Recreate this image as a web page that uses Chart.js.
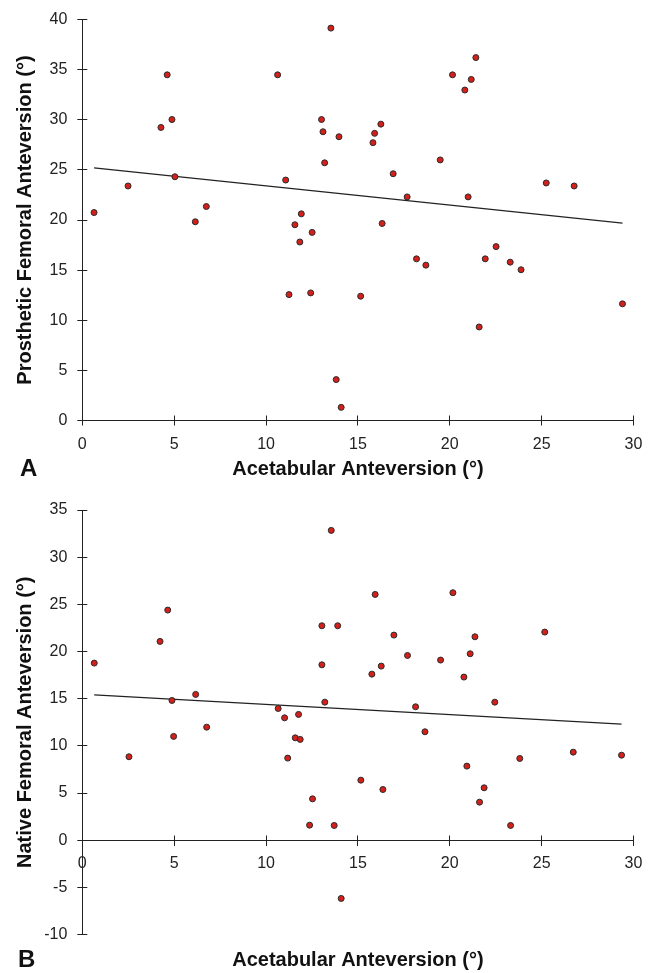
<!DOCTYPE html>
<html>
<head>
<meta charset="utf-8">
<script src="https://cdn.jsdelivr.net/npm/chart.js@4.4.1/dist/chart.umd.min.js"></script>
<style>
  body { margin: 0; background: #fff; }
  #wrap { position: relative; width: 654px; height: 973px; }
  canvas { position: absolute; left: 0; }
  .panel { position: absolute; font: bold 24px "Liberation Sans", Arial, sans-serif; color: #111; line-height: 24px; }
</style>
</head>
<body>
<div id="wrap">
  <canvas id="graficaA" width="654" height="490" style="top:0"></canvas>
  <canvas id="graficaB" width="654" height="483" style="top:490px"></canvas>
  <div class="panel" style="left:20px;top:456px">A</div>
  <div class="panel" style="left:18px;top:947px">B</div>
</div>
<script>
// datos (panel A)
var acetabularA = [0.64, 2.49, 4.28, 4.62, 4.88, 5.04, 6.15, 6.75, 10.63, 11.07, 11.25, 11.57, 11.84, 11.92, 12.43, 12.51,
  13.02, 13.10, 13.19, 13.53, 13.82, 13.97, 14.09, 15.15, 15.82, 15.91, 16.25, 16.32, 16.92, 17.68, 18.19, 18.70,
  19.48, 20.15, 20.82, 21.0, 21.17, 21.42, 21.60, 21.93, 22.52, 23.29, 23.88, 25.25, 26.77, 29.40];
var protesisA = [20.75, 23.4, 29.24, 34.49, 30.03, 24.32, 19.83, 21.35, 34.49, 23.99, 12.56, 19.53, 17.81, 20.62, 12.73, 18.77,
  30.03, 28.81, 25.71, 39.15, 4.08, 28.31, 1.31, 12.40, 27.72, 28.65, 29.57, 19.66, 24.62, 22.31, 16.13, 15.50,
  26.0, 34.49, 32.97, 22.31, 34.03, 36.21, 9.33, 16.13, 17.35, 15.80, 15.04, 23.7, 23.4, 11.64];
var tendenciaAx = [0.64, 29.4];
var tendenciaAy = [25.2, 19.7];

// datos (panel B)
var acetabularB = [0.65, 2.54, 4.23, 4.65, 4.88, 4.97, 6.17, 6.77, 10.66, 11.01, 11.18, 11.59, 11.77, 11.86, 12.37, 12.53,
  13.04, 13.04, 13.2, 13.55, 13.71, 13.9, 14.09, 15.16, 15.76, 15.94, 16.27, 16.36, 16.96, 17.7, 18.14, 18.65,
  19.5, 20.17, 20.77, 20.93, 21.11, 21.37, 21.62, 21.87, 22.45, 23.31, 23.81, 25.17, 26.72, 29.35];
var nativaB = [18.77, 8.84, 21.07, 24.39, 14.81, 11.0, 15.45, 11.98, 13.96, 12.97, 8.70, 10.85, 13.33, 10.68, 1.59, 4.38,
  22.73, 18.59, 14.63, 32.84, 1.56, 22.73, -6.18, 6.36, 17.6, 26.05, 18.45, 5.37, 21.74, 19.58, 14.14, 11.49,
  19.09, 26.23, 17.29, 7.85, 19.76, 21.56, 4.03, 5.55, 14.63, 1.56, 8.66, 22.06, 9.33, 9.01];
var tendenciaBx = [0.65, 29.35];
var tendenciaBy = [15.4, 12.3];

var tituloX = 'Acetabular Anteversion (°)';
var fuenteTicks = { family: '"Liberation Sans", Arial, sans-serif', size: 16 };
var fuenteTitulo = { family: '"Liberation Sans", Arial, sans-serif', size: 20, weight: 'bold' };
var negro = '#222';

//junta dos arrays en puntos {x, y}
function puntos(xs, ys) {
  return xs.map((x, i) => ({ x: x, y: ys[i] }));
}

//dibuja la otra mitad de cada marca (las marcas cruzan el eje)
var marcasInteriores = {
  id: 'marcasInteriores',
  afterDraw: function (chart, args, opts) {
    var ctx = chart.ctx;
    var area = chart.chartArea;
    var ejeY = chart.scales.y;
    var ejeX = chart.scales[opts.ejeX];
    var y0 = Math.floor(ejeY.getPixelForValue(0)) + 0.5;
    ctx.save();
    ctx.strokeStyle = negro;
    ctx.lineWidth = 1;
    ctx.beginPath();
    ejeY.ticks.forEach(t => {
      var py = Math.floor(ejeY.getPixelForValue(t.value)) + 0.5;
      ctx.moveTo(area.left, py);
      ctx.lineTo(area.left + 5, py);
    });
    ejeX.ticks.forEach(t => {
      var px = Math.floor(ejeX.getPixelForValue(t.value)) + 0.5;
      ctx.moveTo(px, y0);
      ctx.lineTo(px, y0 - 5);
    });
    ctx.stroke();
    ctx.restore();
  }
};

function datasets(xs, ys, tx, ty) {
  return [{
    data: puntos(xs, ys),
    backgroundColor: '#d3201b',
    borderColor: '#2a2a2a',
    borderWidth: 1,
    pointRadius: 3,
    order: 1
  }, {
    data: puntos(tx, ty),
    showLine: true,
    borderColor: negro,
    borderWidth: 1.2,
    pointRadius: 0,
    order: 2
  }];
}

function ejeConMarcas(min, max) {
  return {
    type: 'linear', min: min, max: max,
    ticks: { stepSize: 5, font: fuenteTicks, color: negro, padding: 9 },
    grid: { drawOnChartArea: false, tickLength: 5, color: negro, lineWidth: 1 },
    border: { color: negro, width: 1 }
  };
}

function opcionesBase(padTop) {
  return {
    responsive: false,
    animation: false,
    layout: { padding: { top: padTop, right: 20.5, left: 0, bottom: 0 } },
    plugins: { legend: { display: false }, tooltip: { enabled: false }, marcasInteriores: { ejeX: 'x' } }
  };
}

//panel A
function pintarGraficaA() {
  var opciones = opcionesBase(16.7);
  var x = ejeConMarcas(0, 30);
  x.title = { display: true, text: tituloX, font: fuenteTitulo, color: '#111', padding: { top: 0, bottom: 8.4 } };
  x.afterFit = s => { s.height = 69.5; };
  var y = ejeConMarcas(0, 40);
  y.ticks.padding = 10;
  y.title = { display: true, text: 'Prosthetic Femoral Anteversion (°)', font: fuenteTitulo, color: '#111', padding: { top: 13.5, bottom: 0 } };
  y.afterFit = s => { s.width = 82.3; };
  opciones.scales = { x: x, y: y };
  new Chart(document.getElementById('graficaA'), {
    type: 'scatter',
    data: { datasets: datasets(acetabularA, protesisA, tendenciaAx, tendenciaAy) },
    options: opciones,
    plugins: [marcasInteriores]
  });
}

//panel B: el eje x cruza en y = 0
function pintarGraficaB() {
  var opciones = opcionesBase(20);
  opciones.plugins.marcasInteriores.ejeX = 'x0';
  var x = {
    type: 'linear', min: 0, max: 30, position: 'bottom',
    ticks: { display: false }, grid: { display: false }, border: { display: false },
    title: { display: true, text: tituloX, font: fuenteTitulo, color: '#111', padding: { top: 0, bottom: 1 } },
    afterFit: s => { s.height = 38.5; }
  };
  var x0 = ejeConMarcas(0, 30);
  x0.axis = 'x';
  x0.position = { y: 0 };
  x0.afterFit = s => { s.height = 0; };
  var y = ejeConMarcas(-10, 35);
  y.ticks.padding = 10;
  y.title = { display: true, text: 'Native Femoral Anteversion (°)', font: fuenteTitulo, color: '#111', padding: { top: 13.5, bottom: 0 } };
  y.afterFit = s => { s.width = 82.3; };
  opciones.scales = { x: x, x0: x0, y: y };
  new Chart(document.getElementById('graficaB'), {
    type: 'scatter',
    data: { datasets: datasets(acetabularB, nativaB, tendenciaBx, tendenciaBy) },
    options: opciones,
    plugins: [marcasInteriores]
  });
}

pintarGraficaA();
pintarGraficaB();
</script>
</body>
</html>
